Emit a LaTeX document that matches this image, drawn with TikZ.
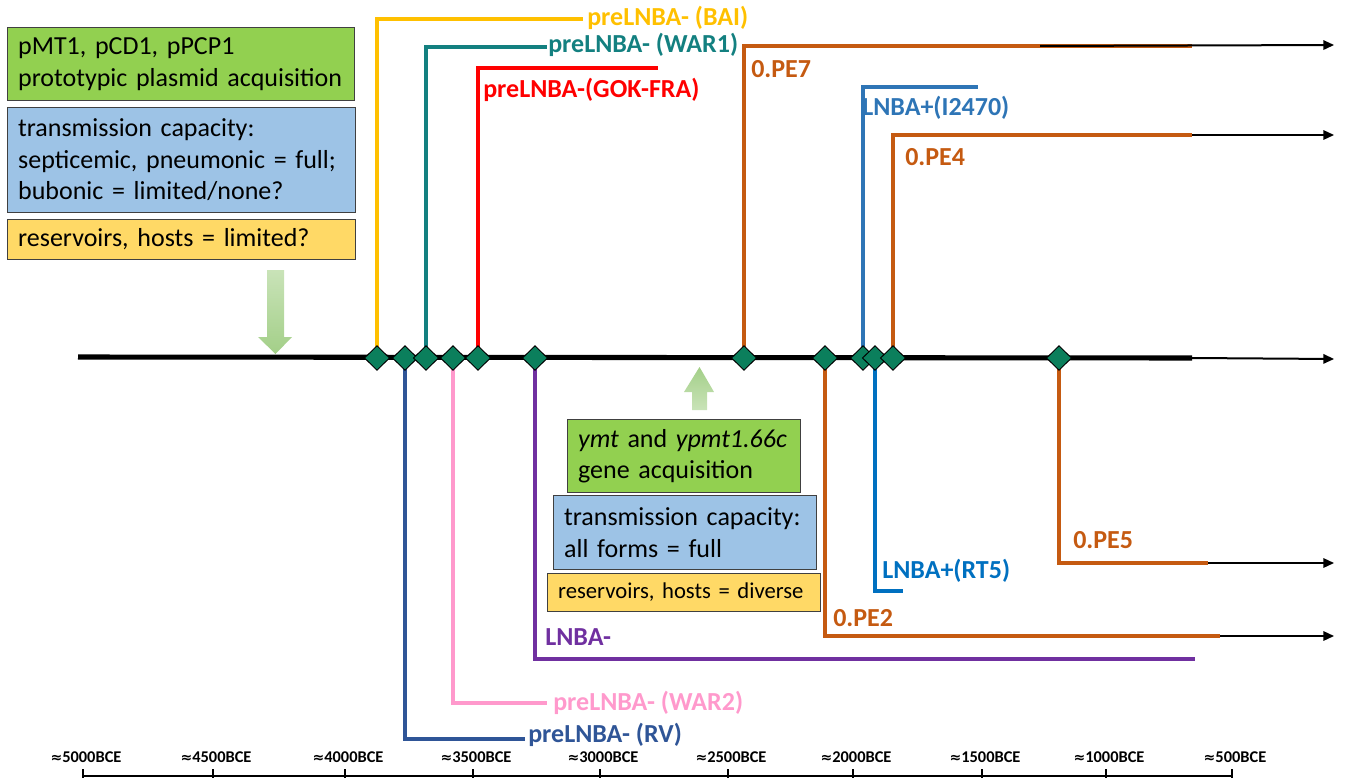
\documentclass[tikz,border=0pt]{standalone}
\usepackage{fontspec}
\setmainfont{Carlito}
\newfontfamily\dvs{DejaVu Sans}
\usetikzlibrary{shapes.geometric,arrows.meta}
\definecolor{cyel}{HTML}{FFC000}
\definecolor{cteal}{HTML}{138080}
\definecolor{cred}{HTML}{FF0000}
\definecolor{corg}{HTML}{C55A11}
\definecolor{cblA}{HTML}{2E75B6}
\definecolor{cblB}{HTML}{0070C0}
\definecolor{cdblue}{HTML}{2F5597}
\definecolor{cpink}{HTML}{FF99CC}
\definecolor{cpurp}{HTML}{7030A0}
\definecolor{cdia}{HTML}{0B7F5C}
\definecolor{bgreen}{HTML}{92D050}
\definecolor{bblue}{HTML}{9DC3E6}
\definecolor{byel}{HTML}{FFD966}
\definecolor{agreenA}{HTML}{C9E3B8}
\definecolor{agreenB}{HTML}{A3CF88}
\tikzset{
  branch/.style={line width=3pt},
  thinarrow/.style={line width=1.5pt,-{Triangle[length=8pt,width=7pt]}},
  lbl/.style={font=\bfseries\fontsize{19.5}{22}\selectfont, anchor=base west, inner sep=0pt},
  dmd/.style={diamond, fill=cdia, draw=black, line width=0.7pt, minimum width=19pt, minimum height=18.5pt, inner sep=0pt},
  infobox/.style={draw=black!75, line width=0.75pt, anchor=north west, inner xsep=8pt, inner ysep=0pt, align=left, font=\fontsize{19.5}{23.6}\selectfont},
  axlbl/.style={font=\bfseries\fontsize{12.3}{14}\selectfont, inner sep=0pt},
}
\begin{document}
\begin{tikzpicture}[x=0.75pt,y=-0.75pt]
\useasboundingbox (0,0) rectangle (1345,778);

% info boxes left
\node[infobox, fill=bgreen, minimum width=260.25pt, minimum height=54.75pt, text width=244.25pt] (box1) at (7,27) {pMT1, pCD1, pPCP1\\prototypic plasmid acquisition};
\node[infobox, fill=bblue, minimum width=261pt, minimum height=78.75pt, text width=245pt] (box2) at (7,107) {transmission capacity:\\septicemic, pneumonic = full;\\bubonic = limited/none?};
\node[infobox, fill=byel, minimum width=261pt, minimum height=30pt, text width=245pt] (box3) at (7,219) {reservoirs, hosts = limited?};

% info boxes middle
\node[infobox, fill=bgreen, minimum width=174.75pt, minimum height=54.75pt, text width=158.75pt] (box4) at (567,419) {\textit{ymt} and \textit{ypmt1.66c}\\gene acquisition};
\node[infobox, fill=bblue, minimum width=197.25pt, minimum height=55.5pt, text width=181.25pt] (box5) at (553,495) {transmission capacity:\\all forms = full};
\node[infobox, fill=byel, minimum width=204.75pt, minimum height=28.5pt, text width=188.75pt, font=\fontsize{17}{20}\selectfont] (box6) at (547,573) {reservoirs, hosts = diverse};

% block arrows
\shade[top color=agreenA, bottom color=agreenB] (267,270) -- (284,270) -- (284,337) -- (292,337) -- (275.5,354) -- (258,337) -- (267,337) -- cycle;
\shade[top color=agreenB, bottom color=agreenA] (692,410) -- (707,410) -- (707,392) -- (714,392) -- (699.5,367) -- (684,392) -- (692,392) -- cycle;

% diamonds (positions)
\coordinate (p1) at (377,358);
\coordinate (p2) at (405,358);
\coordinate (p3) at (426,358);
\coordinate (p4) at (453,358);
\coordinate (p5) at (478,358);
\coordinate (p6) at (535,358);
\coordinate (p7) at (744,358);
\coordinate (p8) at (825,358);
\coordinate (p9) at (863,358);
\coordinate (p10) at (875,358);
\coordinate (p11) at (893,358);
\coordinate (p12) at (1059,358);

% branch end coordinates
\coordinate (eBAI) at (583,19);
\coordinate (eWAR1) at (547,47);
\coordinate (eGOK) at (658,68);
\coordinate (ePE7) at (1192,46);
\coordinate (eI2470) at (978,87);
\coordinate (ePE4) at (1192,135);
\coordinate (eLNBA) at (1195,659);
\coordinate (eWAR2) at (547,703);
\coordinate (eRV) at (525,739);
\coordinate (ePE2) at (1220,636);
\coordinate (eRT5) at (903,591);
\coordinate (ePE5) at (1208,563);

% black continuation arrows
\coordinate (k7) at (1040,46);
\node[inner sep=0pt] (a7) at (1335,45) {};
\node[inner sep=0pt] (a4) at (1335,135) {};
\node[inner sep=0pt] (a2) at (1335,636) {};
\node[inner sep=0pt] (a5) at (1335,563) {};

% branches
\draw[branch, cyel] (p1) |- (eBAI);
\draw[branch, cteal] (p3) |- (eWAR1);
\draw[branch, cred] (p5) |- (eGOK);
\draw[branch, corg] (p7) |- (ePE7);
\draw[branch, cblA] (p9) |- (eI2470);
\draw[branch, corg] (p11) |- (ePE4);
\draw[branch, cdblue] (p2) |- (eRV);
\draw[branch, cpink] (p4) |- (eWAR2);
\draw[branch, cpurp] (p6) |- (eLNBA);
\draw[branch, corg] (p8) |- (ePE2);
\draw[branch, cblB] (p10) |- (eRT5);
\draw[branch, corg] (p12) |- (ePE5);

\draw[thinarrow] (k7) -- (a7);
\draw[thinarrow] (ePE4) -- (a4);
\draw[thinarrow] (ePE2) -- (a2);
\draw[thinarrow] (ePE5) -- (a5);

% main line
\coordinate (m0) at (78,357);
\coordinate (m1) at (1192,358);
\node[inner sep=0pt] (m2) at (1335,359) {};
\draw[line width=3.8pt] (m0) -- (m1);
\draw[thinarrow] (m1) -- (m2);

% diamonds
\foreach \i in {1,...,12} { \node[dmd] (d\i) at (p\i) {}; }

% labels
\node[lbl, cyel] (lBAI) at (587,26) {preLNBA- (BAI)};
\node[lbl, cteal] (lWAR1) at (548,52) {preLNBA- (WAR1)};
\node[lbl, cred] (lGOK) at (483,97) {preLNBA-(GOK-FRA)};
\node[lbl, corg] (lPE7) at (751,77) {0.PE7};
\node[lbl, cblA] (lI2470) at (862,115) {LNBA+(I2470)};
\node[lbl, corg] (lPE4) at (905,165) {0.PE4};
\node[lbl, cpurp] (lLNBA) at (545,645) {LNBA-};
\node[lbl, cpink] (lWAR2) at (553,710) {preLNBA- (WAR2)};
\node[lbl, cdblue] (lRV) at (528,742) {preLNBA- (RV)};
\node[lbl, corg] (lPE2) at (833,626) {0.PE2};
\node[lbl, cblB] (lRT5) at (882,578) {LNBA+(RT5)};
\node[lbl, corg] (lPE5) at (1073,548) {0.PE5};

% time axis
\coordinate (ax0) at (83,776);
\coordinate (ax1) at (1233,776);
\draw[line width=1.5pt] (ax0) -- (ax1);
\foreach \x/\t [count=\n] in {83/5000,213/4500,345/4000,473/3500,600/3000,728/2500,853/2000,982/1500,1106/1000,1232/500} {
  \draw[line width=1.5pt] (\x,769) -- (\x,778);
  \node[axlbl] (t\n) at (\x+3,757) {{\dvs\bfseries\fontsize{10.5}{12}\selectfont ≈}\t BCE};
}
\end{tikzpicture}
\end{document}
